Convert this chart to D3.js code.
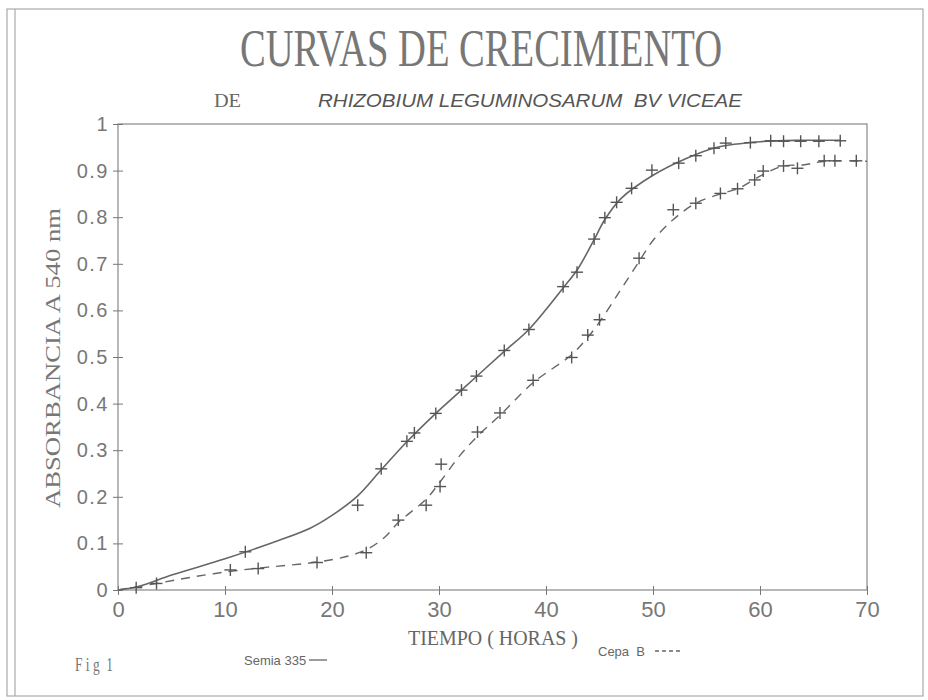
<!DOCTYPE html>
<meta charset="utf-8">
<style>
    body { margin: 0; background: #fff; }
    text { white-space: pre; }
    .axis path, .axis line { stroke: #777; }
    .axis text { fill: #777; font-family: "Liberation Sans", Arial, sans-serif; }
</style>
<svg width="928" height="700"></svg>
<script src="https://cdn.jsdelivr.net/npm/d3@7"></script>
<script>
    // puntos medidos (horas, absorbancia)
    var semiaT = [1.7, 11.9, 22.4, 24.6, 27.0, 27.7, 29.7, 32.1, 33.5, 36.1, 38.4, 41.6, 42.9, 44.5, 45.5, 46.6, 48.0, 49.9, 52.4, 54.0, 55.7, 56.8, 59.1, 61.0, 62.2, 63.8, 65.5, 67.5];
    var semiaY = [0.005, 0.082, 0.182, 0.26, 0.319, 0.337, 0.379, 0.429, 0.459, 0.514, 0.559, 0.651, 0.682, 0.753, 0.799, 0.832, 0.862, 0.901, 0.916, 0.932, 0.948, 0.959, 0.96, 0.964, 0.963, 0.963, 0.963, 0.964];
    var cepaT = [3.6, 10.5, 13.1, 18.6, 23.2, 26.2, 28.8, 30.1, 30.2, 33.6, 35.7, 38.8, 42.4, 43.9, 45.0, 48.7, 51.9, 54.0, 56.3, 57.9, 59.5, 60.3, 62.2, 63.5, 66.0, 67.0, 69.0];
    var cepaY = [0.014, 0.043, 0.046, 0.059, 0.080, 0.150, 0.182, 0.222, 0.270, 0.339, 0.380, 0.450, 0.499, 0.547, 0.580, 0.712, 0.816, 0.830, 0.851, 0.861, 0.880, 0.899, 0.910, 0.905, 0.921, 0.921, 0.921];

    // curvas ajustadas
    var semiaFitT = [0, 2, 5, 10, 15, 18, 20, 22.4, 24.6, 27, 29.7, 32.1, 36.1, 38.4, 41.6, 43, 44.5, 45.5, 47, 50, 53, 56, 60, 64, 67.5];
    var semiaFitY = [0, 0.008, 0.032, 0.067, 0.106, 0.133, 0.16, 0.202, 0.258, 0.318, 0.379, 0.429, 0.512, 0.559, 0.648, 0.69, 0.752, 0.795, 0.84, 0.89, 0.925, 0.95, 0.962, 0.965, 0.965];
    var cepaFitT = [0, 3.6, 7, 10.5, 14, 18.6, 21.7, 23.5, 25, 26.2, 28.8, 30.2, 32, 33.6, 35.7, 38.8, 42.4, 44, 45, 47, 48.7, 50, 51.9, 54, 56.3, 58, 60, 62.2, 64, 66, 70];
    var cepaFitY = [0, 0.014, 0.028, 0.04, 0.049, 0.06, 0.074, 0.09, 0.115, 0.145, 0.195, 0.235, 0.29, 0.33, 0.375, 0.445, 0.505, 0.545, 0.575, 0.645, 0.705, 0.75, 0.795, 0.83, 0.85, 0.862, 0.888, 0.91, 0.912, 0.92, 0.92];

    var xTicks = [0, 10, 20, 30, 40, 50, 60, 70];
    var yTicks = [0, 0.1, 0.2, 0.3, 0.4, 0.5, 0.6, 0.7, 0.8, 0.9, 1];

    var svg = d3.select("svg");
    var grey = "#666";

    // marco
    svg.append("rect").attr("x", 7).attr("y", 9).attr("width", 916).attr("height", 687)
        .attr("fill", "none").attr("stroke", "#aaa").attr("stroke-width", 1.2);
    svg.append("line").attr("x1", 15).attr("x2", 15).attr("y1", 9).attr("y2", 696)
        .attr("stroke", "#aaa").attr("stroke-width", 1.2);

    var x = d3.scaleLinear().domain([0, 70]).range([118, 867]);
    var y = d3.scaleLinear().domain([0, 1]).range([590, 124]);

    // caja del grafico
    svg.append("rect").attr("x", x(0)).attr("y", y(1))
        .attr("width", x(70) - x(0)).attr("height", y(0) - y(1))
        .attr("fill", "none").attr("stroke", "#888").attr("stroke-width", 1.2);

    var xAxis = svg.append("g").attr("class", "axis")
        .attr("transform", "translate(0," + y(0) + ")")
        .call(d3.axisBottom(x).tickValues(xTicks).tickSize(5).tickPadding(6).tickFormat(d3.format("d")));
    xAxis.select(".domain").remove();
    xAxis.selectAll("text").style("font-size", "22px");

    var yAxis = svg.append("g").attr("class", "axis")
        .attr("transform", "translate(" + x(0) + ",0)")
        .call(d3.axisLeft(y).tickValues(yTicks).tickSize(5).tickPadding(4)
            .tickFormat(function (d) { return d === 0 || d === 1 ? d3.format("d")(d) : d3.format(".1f")(d); }));
    yAxis.select(".domain").remove();
    yAxis.selectAll("text").style("font-size", "20px").style("letter-spacing", "1.5px");
    // ticks hacia adentro tambien
    yAxis.selectAll(".tick line").attr("x1", 5);
    xAxis.selectAll(".tick line").attr("y1", -4);

    var line = d3.line()
        .x(function (d) { return x(d[0]); })
        .y(function (d) { return y(d[1]); })
        .curve(d3.curveCatmullRom.alpha(0.5));

    var semiaFit = d3.zip(semiaFitT, semiaFitY);
    var cepaFit = d3.zip(cepaFitT, cepaFitY);

    svg.append("path").datum(semiaFit).attr("d", line)
        .attr("fill", "none").attr("stroke", grey).attr("stroke-width", 1.6);
    svg.append("path").datum(cepaFit).attr("d", line)
        .attr("fill", "none").attr("stroke", grey).attr("stroke-width", 1.4)
        .attr("stroke-dasharray", "9,7");

    function cruces(ts, ys) {
        var g = svg.append("g").attr("stroke", "#555").attr("stroke-width", 1.4);
        var pts = d3.zip(ts, ys);
        g.selectAll("line.h").data(pts).enter().append("line")
            .attr("x1", function (d) { return x(d[0]) - 6; })
            .attr("x2", function (d) { return x(d[0]) + 6; })
            .attr("y1", function (d) { return y(d[1]); })
            .attr("y2", function (d) { return y(d[1]); });
        g.selectAll("line.v").data(pts).enter().append("line")
            .attr("x1", function (d) { return x(d[0]); })
            .attr("x2", function (d) { return x(d[0]); })
            .attr("y1", function (d) { return y(d[1]) - 6; })
            .attr("y2", function (d) { return y(d[1]) + 6; });
    }
    cruces(semiaT, semiaY);
    cruces(cepaT, cepaY);

    // textos
    svg.append("text").attr("x", 240).attr("y", 66)
        .attr("textLength", 482).attr("lengthAdjust", "spacingAndGlyphs")
        .style("font-family", "'Liberation Serif', serif").style("font-size", "52px")
        .style("fill", "#777").text("CURVAS DE CRECIMIENTO");
    svg.append("text").attr("x", 214).attr("y", 107)
        .attr("textLength", 27).attr("lengthAdjust", "spacingAndGlyphs")
        .style("font-family", "'Liberation Serif', serif").style("font-size", "18px")
        .style("fill", "#666").text("DE");
    svg.append("text").attr("x", 318).attr("y", 107)
        .attr("textLength", 424).attr("lengthAdjust", "spacingAndGlyphs")
        .style("font-family", "'Liberation Sans', sans-serif").style("font-style", "italic")
        .style("font-size", "19px").style("fill", "#555")
        .text("RHIZOBIUM LEGUMINOSARUM  BV VICEAE");

    svg.append("text").attr("transform", "translate(60,358) rotate(-90)")
        .attr("text-anchor", "middle")
        .attr("textLength", 300).attr("lengthAdjust", "spacingAndGlyphs")
        .style("font-family", "'Liberation Serif', serif").style("font-size", "22px")
        .style("fill", "#777").text("ABSORBANCIA A 540 nm");

    svg.append("text").attr("x", 408).attr("y", 645)
        .attr("textLength", 170).attr("lengthAdjust", "spacingAndGlyphs")
        .style("font-family", "'Liberation Serif', serif").style("font-size", "22px")
        .style("fill", "#666").text("TIEMPO ( HORAS )");

    svg.append("text").attr("x", 75).attr("y", 671)
        .attr("textLength", 38).attr("lengthAdjust", "spacingAndGlyphs")
        .style("font-family", "'Liberation Serif', serif").style("font-size", "19px")
        .style("fill", "#777").text("F i g  1");

    // leyenda
    svg.append("text").attr("x", 244).attr("y", 665)
        .style("font-family", "'Liberation Sans', sans-serif").style("font-size", "13px")
        .style("fill", "#666").text("Semia 335");
    svg.append("line").attr("x1", 309).attr("x2", 327).attr("y1", 660).attr("y2", 660)
        .attr("stroke", grey).attr("stroke-width", 1.3);
    svg.append("text").attr("x", 598).attr("y", 656)
        .style("font-family", "'Liberation Sans', sans-serif").style("font-size", "13px")
        .style("fill", "#666").text("Cepa  B");
    svg.append("line").attr("x1", 655).attr("x2", 682).attr("y1", 651).attr("y2", 651)
        .attr("stroke", grey).attr("stroke-width", 1.3).attr("stroke-dasharray", "4,3");
</script>
